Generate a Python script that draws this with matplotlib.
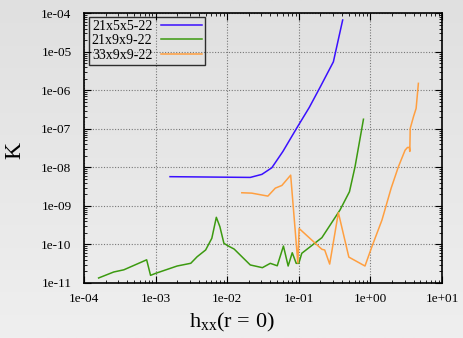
import numpy as np
import matplotlib
matplotlib.use("Agg")
import matplotlib.pyplot as plt
from matplotlib.ticker import LogLocator, FuncFormatter, NullFormatter
from matplotlib.colors import LinearSegmentedColormap

plt.rcParams['font.family'] = ['Liberation Serif', 'DejaVu Serif']
plt.rcParams['mathtext.fontset'] = 'custom'
plt.rcParams['mathtext.rm'] = 'Liberation Serif'

labels = ["21x5x5-22", "21x9x9-22", "33x9x9-22"]

blue_x = [1.59e-3, 0.021, 0.0305, 0.042, 0.06, 0.093, 0.14, 0.2, 0.304, 0.41]
blue_y = [5.75e-9, 5.5e-9, 6.6e-9, 9.8e-9, 2.6e-8, 1.03e-7, 3.6e-7, 1.24e-6, 5.5e-6, 6.7e-5]

green_x = [1.6e-4, 2.6e-4, 3.6e-4, 7.5e-4, 8.5e-4, 1.0e-3, 2.0e-3, 3.1e-3, 3.8e-3,
           5.0e-3, 6.1e-3, 7.05e-3, 7.9e-3, 9.0e-3, 1.04e-2, 1.25e-2, 0.021, 0.031,
           0.04, 0.05, 0.061, 0.071, 0.081, 0.092, 0.1, 0.11, 0.21, 0.377, 0.51,
           0.61, 0.80]
green_y = [1.35e-11, 1.93e-11, 2.2e-11, 4.0e-11, 1.58e-11, 1.78e-11, 2.76e-11, 3.25e-11,
           4.8e-11, 7.2e-11, 1.45e-10, 5.07e-10, 2.9e-10, 1.07e-10, 9.1e-11, 7.6e-11,
           2.94e-11, 2.5e-11, 3.24e-11, 2.8e-11, 9.1e-11, 2.76e-11, 6.1e-11, 3.24e-11,
           3.24e-11, 5.9e-11, 1.5e-10, 7.9e-10, 2.34e-9, 1.04e-8, 1.78e-7]

orange_x = [0.016, 0.022, 0.037, 0.047, 0.058, 0.077, 0.097, 0.101, 0.21, 0.23,
            0.27, 0.357, 0.5, 0.84, 1.05, 1.45, 1.95, 2.46, 3.05, 3.3, 3.5, 3.55,
            3.6, 4.0, 4.35, 4.5, 4.68]
orange_y = [2.2e-9, 2.15e-9, 1.8e-9, 2.9e-9, 3.4e-9, 6.3e-9, 3.3e-11, 2.6e-10, 7.5e-11,
            7.2e-11, 3.1e-11, 6.7e-10, 4.7e-11, 2.76e-11, 8.8e-11, 4.3e-10, 2.9e-9,
            1.04e-8, 2.8e-8, 3.3e-8, 3.3e-8, 2.6e-8, 1.03e-7, 2.08e-7, 3.4e-7, 6.8e-7,
            1.52e-6]

colors = ["#3a10ff", "#3c9a10", "#ff9f40"]

W, H = 464, 338
fig = plt.figure(figsize=(W / 100, H / 100), dpi=100)

bg = fig.add_axes([0, 0, 1, 1], zorder=-10)
grad = np.linspace(0, 1, 256).reshape(-1, 1)
cmap = LinearSegmentedColormap.from_list("g", ["#e0e0e0", "#efefef"])
bg.imshow(grad, aspect='auto', cmap=cmap, extent=[0, 1, 0, 1], origin='upper')
bg.axis('off')

left, right, top, bottom = 84, 442, 13.3, 283
ax = fig.add_axes([left / W, 1 - bottom / H, (right - left) / W, (bottom - top) / H])
ax.patch.set_alpha(0)

for xs, ys, c, lab in zip([blue_x, green_x, orange_x], [blue_y, green_y, orange_y], colors, labels):
    ax.plot(xs, ys, color=c, lw=1.1, label=lab)

ax.set_xscale('log')
ax.set_yscale('log')
ax.set_xlim(1e-4, 1e1)
ax.set_ylim(1e-11, 1e-4)

def lab(v, p):
    e = int(round(np.log10(v)))
    return "1e%+03d" % e
ax.xaxis.set_major_formatter(FuncFormatter(lab))
ax.yaxis.set_major_formatter(FuncFormatter(lab))
ax.xaxis.set_major_locator(LogLocator(base=10, numticks=20))
ax.yaxis.set_major_locator(LogLocator(base=10, numticks=20))
ax.xaxis.set_minor_locator(LogLocator(base=10, subs=np.arange(2, 10), numticks=20))
ax.yaxis.set_minor_locator(LogLocator(base=10, subs=np.arange(2, 10), numticks=20))
ax.xaxis.set_minor_formatter(NullFormatter())
ax.yaxis.set_minor_formatter(NullFormatter())
ax.tick_params(which='both', direction='in', top=True, right=True, labelsize=9.5, colors='black')
ax.tick_params(which='major', length=5, width=0.8)
ax.tick_params(axis='y', which='major', pad=9)
ax.tick_params(axis='x', which='major', pad=7)
ax.tick_params(which='minor', length=2.5, width=0.6)
for s in ax.spines.values():
    s.set_linewidth(1.2)

ax.grid(True, which='major', color='#777777', linestyle=(0, (1, 1.5)), linewidth=0.8)

fig.text(15 / W, 1 - 150 / H, "K", fontsize=17, rotation=90, ha='center', va='center')
fig.text(232 / W, 1 - 322 / H, r"h$_{\mathrm{xx}}$(r = 0)", fontsize=16, ha='center', va='center')

leg = ax.legend(loc='upper left', bbox_to_anchor=(0.014, 0.987), fontsize=10,
                frameon=True, fancybox=False, edgecolor='black', facecolor='none',
                markerfirst=False, handlelength=3.0, borderpad=0.2, labelspacing=0.12,
                handletextpad=0.6, borderaxespad=0)
leg.get_frame().set_linewidth(1.0)

fig.savefig("out.png", dpi=100)
